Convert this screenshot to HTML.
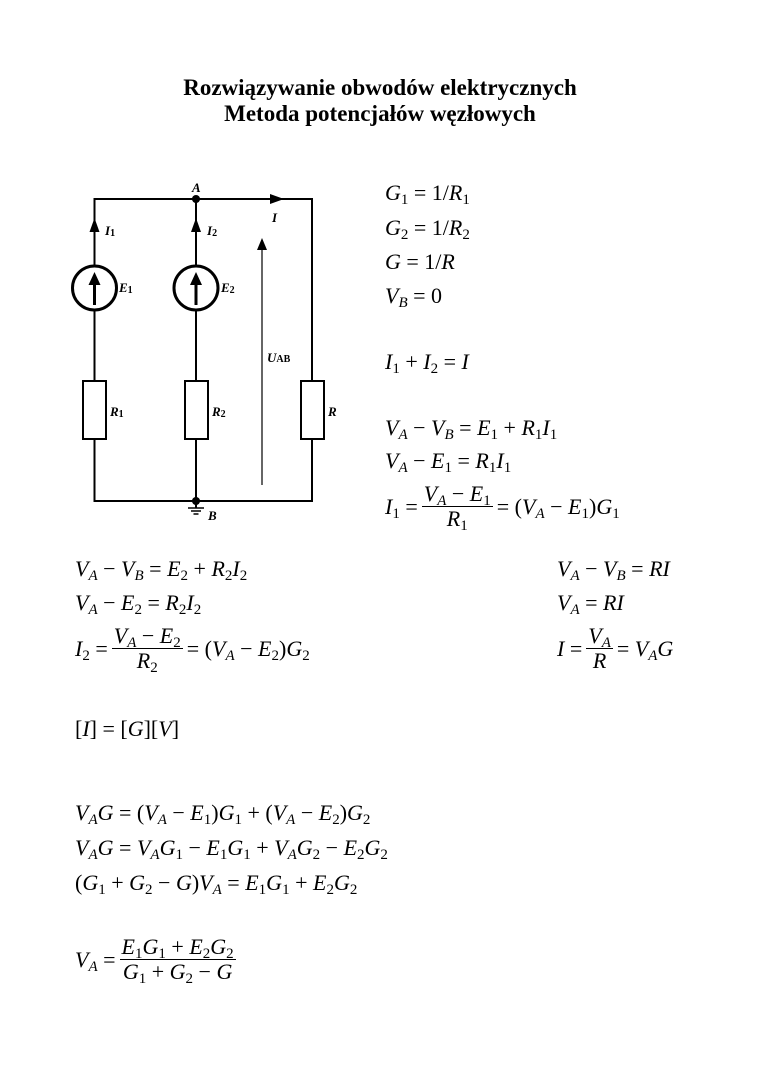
<!DOCTYPE html>
<html><head><meta charset="utf-8"><style>
body{margin:0;background:#fff;}
#p{position:relative;width:760px;height:1075px;overflow:hidden;font-family:"Liberation Serif",serif;color:#000;}
.t{position:absolute;left:0;width:760px;text-align:center;font-weight:bold;font-size:23px;}
.e{position:absolute;font-size:22px;line-height:26px;white-space:nowrap;}
.e i,.r i{font-style:italic;}
sub{font-size:15px;vertical-align:-4px;line-height:0;}
.r{display:flex;align-items:center;position:absolute;font-size:22px;white-space:nowrap;}
.r>span{white-space:pre;}
.f{display:inline-flex;flex-direction:column;align-items:center;margin:0 4px;}
.f span{padding:0 2px;line-height:24px;white-space:pre;}
.f .n{border-bottom:1px solid #000;}
svg text{font-family:"Liberation Serif",serif;font-weight:bold;font-style:italic;font-size:13px;}
</style></head><body><div id="p">
<div class="t" style="top:75px">Rozwiązywanie obwodów elektrycznych</div>
<div class="t" style="top:101px">Metoda potencjałów węzłowych</div>

<svg width="760" height="1075" style="position:absolute;left:0;top:0">
<g stroke="#000" stroke-width="2" fill="none">
<polyline points="94.5,288 94.5,199 312,199 312,501 94.5,501 94.5,288"/>
<line x1="196" y1="199" x2="196" y2="501"/>
<circle cx="94.5" cy="288" r="22" fill="#fff" stroke-width="3"/>
<circle cx="196" cy="288" r="22" fill="#fff" stroke-width="3"/>
<line x1="94.5" y1="305" x2="94.5" y2="280" stroke-width="3"/>
<line x1="196" y1="305" x2="196" y2="280" stroke-width="3"/>
<rect x="83" y="381" width="23" height="58" fill="#fff"/>
<rect x="185" y="381" width="23" height="58" fill="#fff"/>
<rect x="301" y="381" width="23" height="58" fill="#fff"/>
<line x1="262" y1="485" x2="262" y2="248" stroke-width="1.2"/>
<line x1="196" y1="501" x2="196" y2="508"/>
<line x1="188" y1="508" x2="204" y2="508" stroke-width="1.5"/>
<line x1="191" y1="511" x2="201" y2="511" stroke-width="1.5"/>
<line x1="193.5" y1="514" x2="198.5" y2="514" stroke-width="1.5"/>
</g>
<g fill="#000">
<polygon points="94.5,218 89.5,232 99.5,232"/>
<polygon points="196,218 191,232 201,232"/>
<polygon points="94.5,272 88.5,285 100.5,285"/>
<polygon points="196,272 190,285 202,285"/>
<polygon points="284,199 270,194 270,204"/>
<polygon points="262,238 257,250 267,250"/>
<circle cx="196" cy="199" r="4"/>
<circle cx="196" cy="501" r="4"/>
</g>
<text x="192" y="192">A</text>
<text x="105" y="235">I<tspan font-size="10" font-style="normal" dy="1">1</tspan></text>
<text x="207" y="235">I<tspan font-size="10" font-style="normal" dy="1">2</tspan></text>
<text x="272" y="222">I</text>
<text x="119" y="292">E<tspan font-size="10" font-style="normal" dy="1">1</tspan></text>
<text x="221" y="292">E<tspan font-size="10" font-style="normal" dy="1">2</tspan></text>
<text x="267" y="362">U<tspan font-size="10" font-style="normal">AB</tspan></text>
<text x="110" y="416">R<tspan font-size="10" font-style="normal" dy="1">1</tspan></text>
<text x="212" y="416">R<tspan font-size="10" font-style="normal" dy="1">2</tspan></text>
<text x="328" y="416">R</text>
<text x="208" y="520">B</text>
</svg>

<div class="e" style="left:385px;top:180px"><i>G</i><sub>1</sub> = 1/<i>R</i><sub>1</sub></div>
<div class="e" style="left:385px;top:215px"><i>G</i><sub>2</sub> = 1/<i>R</i><sub>2</sub></div>
<div class="e" style="left:385px;top:249px"><i>G</i> = 1/<i>R</i></div>
<div class="e" style="left:385px;top:283px"><i>V<sub>B</sub></i> = 0</div>
<div class="e" style="left:385px;top:349px"><i>I</i><sub>1</sub> + <i>I</i><sub>2</sub> = <i>I</i></div>
<div class="e" style="left:385px;top:415px"><i>V<sub>A</sub></i> − <i>V<sub>B</sub></i> = <i>E</i><sub>1</sub> + <i>R</i><sub>1</sub><i>I</i><sub>1</sub></div>
<div class="e" style="left:385px;top:448px"><i>V<sub>A</sub></i> − <i>E</i><sub>1</sub> = <i>R</i><sub>1</sub><i>I</i><sub>1</sub></div>
<div class="r" style="left:385px;top:482px"><span><i>I</i><sub>1</sub> =</span><span class="f"><span class="n"><i>V<sub>A</sub></i> − <i>E</i><sub>1</sub></span><span><i>R</i><sub>1</sub></span></span><span>= (<i>V<sub>A</sub></i> − <i>E</i><sub>1</sub>)<i>G</i><sub>1</sub></span></div>

<div class="e" style="left:75px;top:556px"><i>V<sub>A</sub></i> − <i>V<sub>B</sub></i> = <i>E</i><sub>2</sub> + <i>R</i><sub>2</sub><i>I</i><sub>2</sub></div>
<div class="e" style="left:75px;top:590px"><i>V<sub>A</sub></i> − <i>E</i><sub>2</sub> = <i>R</i><sub>2</sub><i>I</i><sub>2</sub></div>
<div class="r" style="left:75px;top:624px"><span><i>I</i><sub>2</sub> =</span><span class="f"><span class="n"><i>V<sub>A</sub></i> − <i>E</i><sub>2</sub></span><span><i>R</i><sub>2</sub></span></span><span>= (<i>V<sub>A</sub></i> − <i>E</i><sub>2</sub>)<i>G</i><sub>2</sub></span></div>

<div class="e" style="left:557px;top:556px"><i>V<sub>A</sub></i> − <i>V<sub>B</sub></i> = <i>RI</i></div>
<div class="e" style="left:557px;top:590px"><i>V<sub>A</sub></i> = <i>RI</i></div>
<div class="r" style="left:557px;top:624px"><span><i>I</i> =</span><span class="f"><span class="n"><i>V<sub>A</sub></i></span><span><i>R</i></span></span><span>= <i>V<sub>A</sub>G</i></span></div>

<div class="e" style="left:75px;top:716px">[<i>I</i>] = [<i>G</i>][<i>V</i>]</div>

<div class="e" style="left:75px;top:800px"><i>V<sub>A</sub>G</i> = (<i>V<sub>A</sub></i> − <i>E</i><sub>1</sub>)<i>G</i><sub>1</sub> + (<i>V<sub>A</sub></i> − <i>E</i><sub>2</sub>)<i>G</i><sub>2</sub></div>
<div class="e" style="left:75px;top:835px"><i>V<sub>A</sub>G</i> = <i>V<sub>A</sub>G</i><sub>1</sub> − <i>E</i><sub>1</sub><i>G</i><sub>1</sub> + <i>V<sub>A</sub>G</i><sub>2</sub> − <i>E</i><sub>2</sub><i>G</i><sub>2</sub></div>
<div class="e" style="left:75px;top:870px">(<i>G</i><sub>1</sub> + <i>G</i><sub>2</sub> − <i>G</i>)<i>V<sub>A</sub></i> = <i>E</i><sub>1</sub><i>G</i><sub>1</sub> + <i>E</i><sub>2</sub><i>G</i><sub>2</sub></div>

<div class="r" style="left:75px;top:935px"><span><i>V<sub>A</sub></i> =</span><span class="f"><span class="n"><i>E</i><sub>1</sub><i>G</i><sub>1</sub> + <i>E</i><sub>2</sub><i>G</i><sub>2</sub></span><span><i>G</i><sub>1</sub> + <i>G</i><sub>2</sub> − <i>G</i></span></span></div>
</div></body></html>
